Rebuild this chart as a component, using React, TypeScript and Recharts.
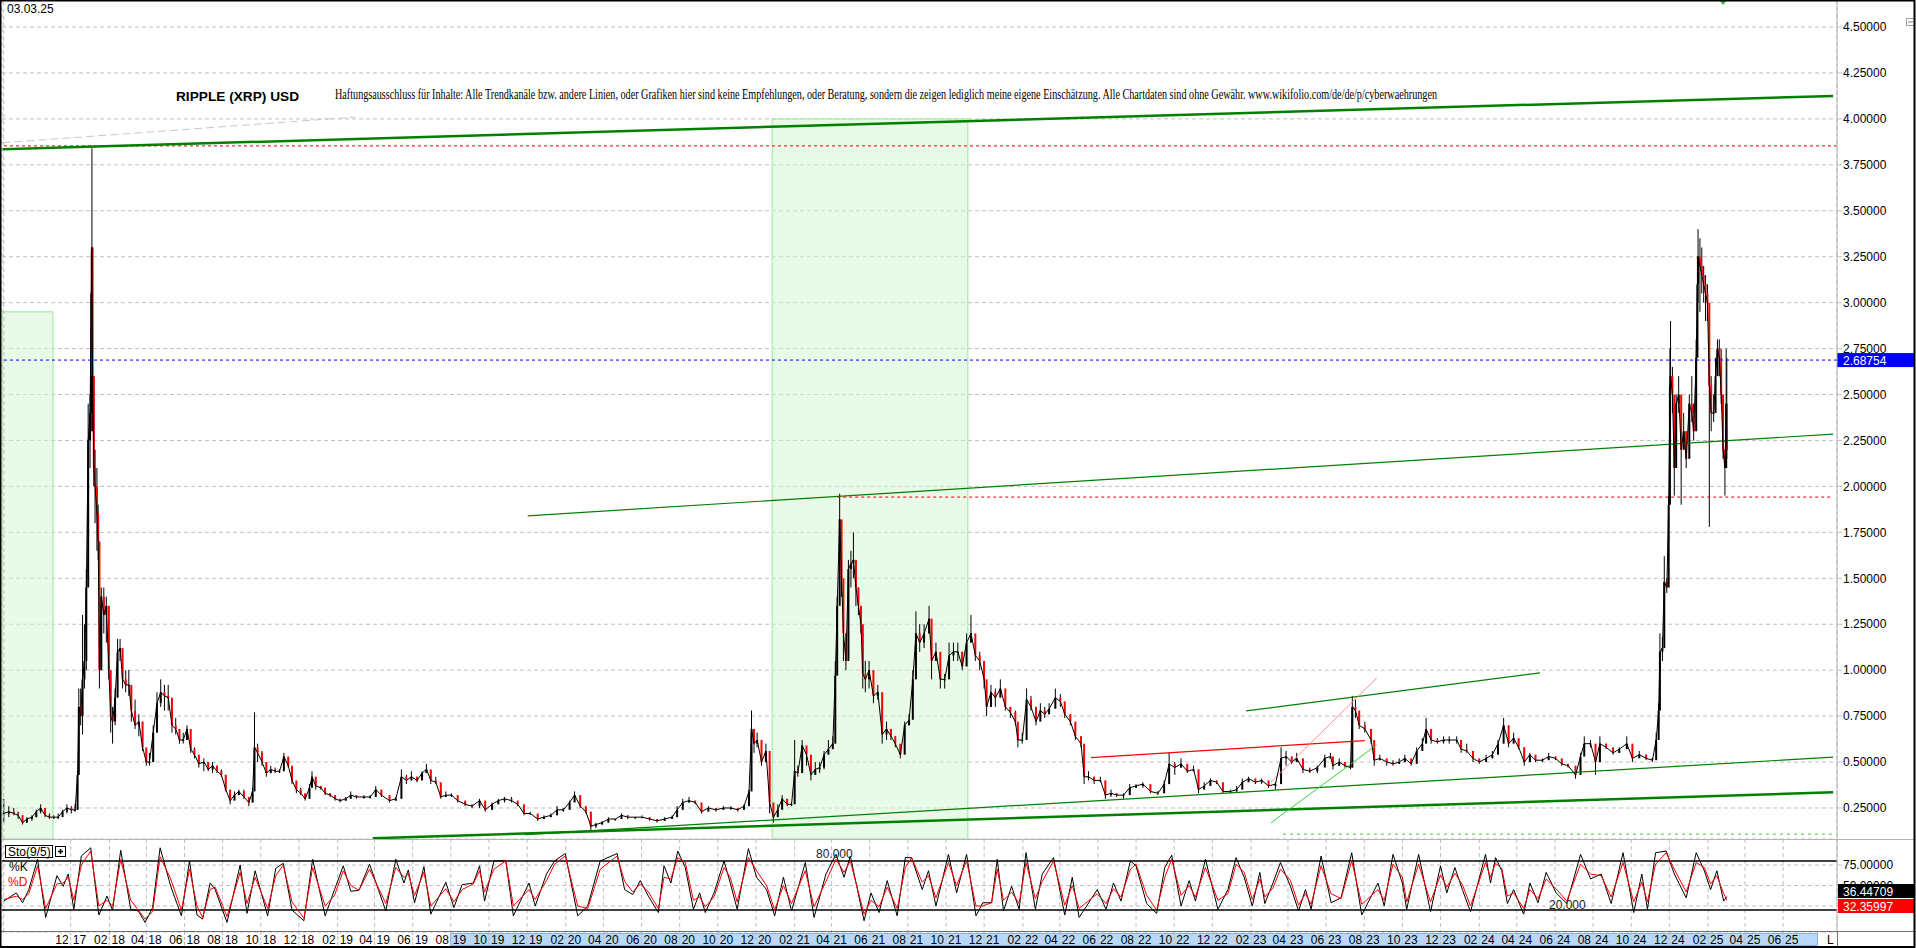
import React from "react";
import {
  ComposedChart,
  Bar,
  Line,
  XAxis,
  YAxis,
  CartesianGrid,
  ReferenceLine,
  ReferenceArea,
  ReferenceDot,
} from "recharts";

// x unit: days since 1 Dec 2017
const DAY0 = Date.parse("2017-12-01");
const toDay = (s: string) => (Date.parse(s) - DAY0) / 86400000;

const X_MIN = -109.9;
const X_MAX = 2825.2;
const P_MIN = 0.0812;
const P_MAX = 4.647;
const S_MIN = -6.71;
const S_MAX = 106.71;

const tickMonths = [
  "2017-12", "2018-02", "2018-04", "2018-06", "2018-08", "2018-10", "2018-12",
  "2019-02", "2019-04", "2019-06", "2019-08", "2019-10", "2019-12",
  "2020-02", "2020-04", "2020-06", "2020-08", "2020-10", "2020-12",
  "2021-02", "2021-04", "2021-06", "2021-08", "2021-10", "2021-12",
  "2022-02", "2022-04", "2022-06", "2022-08", "2022-10", "2022-12",
  "2023-02", "2023-04", "2023-06", "2023-08", "2023-10", "2023-12",
  "2024-02", "2024-04", "2024-06", "2024-08", "2024-10", "2024-12",
  "2025-02", "2025-04", "2025-06",
];
const tickDays = tickMonths.map((m) => toDay(m + "-01"));

const priceTicks = [0.25, 0.5, 0.75, 1, 1.25, 1.5, 1.75, 2, 2.25, 2.5, 2.75, 3, 3.25, 3.5, 3.75, 4, 4.25, 4.5];
const stochTicks = [75, 50, 25];

const lastPrice = 2.68754;
const lastK = "36.44709";
const lastD = "32.35997";

// [date, low, high, close]
const priceRows: [string, number, number, number][] = [
  ["2017-08-16", 0.17, 0.3, 0.22], ["2017-08-24", 0.2, 0.26, 0.23], ["2017-09-01", 0.21, 0.25, 0.22],
  ["2017-09-08", 0.19, 0.23, 0.21], ["2017-09-15", 0.16, 0.21, 0.17], ["2017-09-22", 0.17, 0.2, 0.19],
  ["2017-09-30", 0.18, 0.21, 0.2], ["2017-10-07", 0.2, 0.24, 0.23], ["2017-10-14", 0.22, 0.27, 0.25],
  ["2017-10-21", 0.2, 0.24, 0.21], ["2017-10-28", 0.19, 0.22, 0.2], ["2017-11-04", 0.19, 0.21, 0.2],
  ["2017-11-11", 0.19, 0.22, 0.2], ["2017-11-18", 0.21, 0.24, 0.23], ["2017-11-25", 0.22, 0.27, 0.25],
  ["2017-12-02", 0.22, 0.26, 0.24], ["2017-12-08", 0.23, 0.27, 0.24], ["2017-12-12", 0.24, 0.45, 0.43],
  ["2017-12-14", 0.55, 0.9, 0.8], ["2017-12-17", 0.7, 0.9, 0.75], ["2017-12-20", 0.65, 1.3, 0.95],
  ["2017-12-23", 0.9, 1.25, 1.05], ["2017-12-26", 1.0, 1.55, 1.45], ["2017-12-29", 1.5, 2.45, 2.25],
  ["2018-01-01", 2.1, 2.5, 2.4], ["2018-01-03", 2.3, 3.28, 3.05], ["2018-01-04", 2.9, 3.84, 3.3],
  ["2018-01-05", 2.3, 3.2, 2.6], ["2018-01-07", 2.0, 2.6, 2.1], ["2018-01-09", 1.8, 2.2, 2.0],
  ["2018-01-12", 1.65, 2.1, 1.85], ["2018-01-14", 1.6, 1.9, 1.7], ["2018-01-16", 0.9, 1.7, 1.0],
  ["2018-01-19", 1.15, 1.45, 1.4], ["2018-01-23", 1.2, 1.45, 1.3], ["2018-01-27", 1.15, 1.4, 1.35],
  ["2018-01-31", 0.95, 1.2, 1.0], ["2018-02-03", 0.66, 0.95, 0.75], ["2018-02-06", 0.6, 0.8, 0.72],
  ["2018-02-10", 0.7, 0.9, 0.85], ["2018-02-14", 1.05, 1.17, 1.1], ["2018-02-18", 1.05, 1.17, 1.12],
  ["2018-02-22", 0.9, 1.05, 0.95], ["2018-02-27", 0.88, 1.0, 0.92], ["2018-03-04", 0.86, 1.0, 0.92],
  ["2018-03-08", 0.72, 0.9, 0.78], ["2018-03-14", 0.68, 0.84, 0.7], ["2018-03-20", 0.64, 0.76, 0.72],
  ["2018-03-26", 0.56, 0.66, 0.58], ["2018-04-01", 0.48, 0.56, 0.5], ["2018-04-06", 0.48, 0.55, 0.5],
  ["2018-04-12", 0.5, 0.7, 0.66], ["2018-04-18", 0.75, 0.88, 0.82], ["2018-04-24", 0.8, 0.95, 0.88],
  ["2018-04-30", 0.78, 0.92, 0.86], ["2018-05-06", 0.78, 0.92, 0.85], ["2018-05-12", 0.66, 0.78, 0.7],
  ["2018-05-18", 0.65, 0.74, 0.68], ["2018-05-24", 0.6, 0.68, 0.62], ["2018-05-30", 0.6, 0.66, 0.62],
  ["2018-06-05", 0.66, 0.7, 0.68], ["2018-06-11", 0.55, 0.62, 0.57], ["2018-06-17", 0.52, 0.58, 0.54],
  ["2018-06-24", 0.47, 0.52, 0.49], ["2018-07-02", 0.45, 0.52, 0.5], ["2018-07-09", 0.45, 0.5, 0.46],
  ["2018-07-16", 0.44, 0.5, 0.48], ["2018-07-23", 0.44, 0.48, 0.45], ["2018-07-30", 0.42, 0.46, 0.43],
  ["2018-08-06", 0.34, 0.43, 0.35], ["2018-08-13", 0.27, 0.33, 0.29], ["2018-08-20", 0.3, 0.34, 0.32],
  ["2018-08-27", 0.32, 0.35, 0.34], ["2018-09-04", 0.3, 0.35, 0.31], ["2018-09-12", 0.26, 0.3, 0.28],
  ["2018-09-18", 0.28, 0.36, 0.34], ["2018-09-21", 0.45, 0.77, 0.58], ["2018-09-26", 0.5, 0.6, 0.55],
  ["2018-10-03", 0.48, 0.56, 0.5], ["2018-10-10", 0.42, 0.5, 0.44], ["2018-10-17", 0.44, 0.48, 0.46],
  ["2018-10-24", 0.44, 0.47, 0.45], ["2018-10-31", 0.44, 0.46, 0.45], ["2018-11-07", 0.5, 0.55, 0.53],
  ["2018-11-14", 0.47, 0.52, 0.48], ["2018-11-20", 0.38, 0.45, 0.4], ["2018-11-27", 0.33, 0.38, 0.35],
  ["2018-12-04", 0.32, 0.36, 0.33], ["2018-12-11", 0.29, 0.32, 0.3], ["2018-12-18", 0.3, 0.38, 0.36],
  ["2018-12-22", 0.38, 0.45, 0.42], ["2018-12-28", 0.35, 0.4, 0.37],
  ["2019-01-05", 0.35, 0.37, 0.36], ["2019-01-12", 0.32, 0.36, 0.33], ["2019-01-20", 0.31, 0.33, 0.32],
  ["2019-01-28", 0.29, 0.32, 0.3], ["2019-02-05", 0.28, 0.3, 0.29], ["2019-02-14", 0.29, 0.31, 0.3],
  ["2019-02-22", 0.31, 0.34, 0.32], ["2019-03-03", 0.3, 0.32, 0.31], ["2019-03-15", 0.3, 0.32, 0.31],
  ["2019-03-25", 0.3, 0.32, 0.31], ["2019-04-03", 0.33, 0.37, 0.35], ["2019-04-12", 0.31, 0.34, 0.32],
  ["2019-04-25", 0.28, 0.31, 0.29], ["2019-05-05", 0.29, 0.31, 0.3], ["2019-05-14", 0.38, 0.46, 0.42],
  ["2019-05-22", 0.38, 0.43, 0.4], ["2019-05-30", 0.4, 0.45, 0.42], ["2019-06-08", 0.39, 0.42, 0.4],
  ["2019-06-16", 0.42, 0.45, 0.44], ["2019-06-23", 0.45, 0.49, 0.46], ["2019-06-30", 0.38, 0.44, 0.4],
  ["2019-07-08", 0.38, 0.42, 0.39], ["2019-07-16", 0.3, 0.35, 0.31], ["2019-07-24", 0.31, 0.34, 0.32],
  ["2019-08-02", 0.31, 0.33, 0.32], ["2019-08-12", 0.28, 0.31, 0.29], ["2019-08-24", 0.26, 0.28, 0.27],
  ["2019-09-04", 0.25, 0.26, 0.26], ["2019-09-16", 0.25, 0.3, 0.29], ["2019-09-25", 0.23, 0.27, 0.24],
  ["2019-10-06", 0.25, 0.28, 0.27], ["2019-10-16", 0.28, 0.3, 0.29], ["2019-10-26", 0.28, 0.31, 0.3],
  ["2019-11-06", 0.28, 0.31, 0.29], ["2019-11-16", 0.26, 0.28, 0.27], ["2019-11-26", 0.21, 0.24, 0.22],
  ["2019-12-06", 0.22, 0.23, 0.22], ["2019-12-18", 0.18, 0.2, 0.19], ["2019-12-28", 0.19, 0.21, 0.2],
  ["2020-01-08", 0.2, 0.22, 0.21], ["2020-01-18", 0.22, 0.26, 0.24], ["2020-01-28", 0.23, 0.25, 0.24],
  ["2020-02-07", 0.26, 0.29, 0.28], ["2020-02-15", 0.29, 0.34, 0.32], ["2020-02-24", 0.25, 0.29, 0.26],
  ["2020-03-04", 0.22, 0.25, 0.23], ["2020-03-12", 0.12, 0.21, 0.15], ["2020-03-20", 0.14, 0.17, 0.16],
  ["2020-03-30", 0.16, 0.18, 0.17], ["2020-04-09", 0.18, 0.2, 0.19], ["2020-04-20", 0.18, 0.19, 0.19],
  ["2020-04-30", 0.2, 0.22, 0.21], ["2020-05-10", 0.19, 0.21, 0.2], ["2020-05-22", 0.19, 0.2, 0.2],
  ["2020-06-02", 0.2, 0.21, 0.2], ["2020-06-14", 0.18, 0.2, 0.19], ["2020-06-26", 0.17, 0.18, 0.18],
  ["2020-07-08", 0.18, 0.2, 0.19], ["2020-07-20", 0.19, 0.21, 0.2], ["2020-07-28", 0.22, 0.26, 0.24],
  ["2020-08-06", 0.26, 0.3, 0.28], ["2020-08-16", 0.28, 0.31, 0.29], ["2020-08-26", 0.27, 0.29, 0.28],
  ["2020-09-05", 0.22, 0.26, 0.23], ["2020-09-16", 0.24, 0.26, 0.25], ["2020-09-28", 0.23, 0.25, 0.24],
  ["2020-10-10", 0.24, 0.26, 0.25], ["2020-10-22", 0.24, 0.26, 0.25], ["2020-11-02", 0.23, 0.25, 0.24],
  ["2020-11-12", 0.25, 0.27, 0.26], ["2020-11-20", 0.28, 0.35, 0.34], ["2020-11-24", 0.52, 0.78, 0.68],
  ["2020-11-28", 0.55, 0.68, 0.6], ["2020-12-03", 0.58, 0.66, 0.62], ["2020-12-10", 0.48, 0.56, 0.5],
  ["2020-12-17", 0.52, 0.6, 0.56], ["2020-12-23", 0.22, 0.5, 0.28], ["2020-12-29", 0.17, 0.24, 0.2],
  ["2021-01-05", 0.22, 0.27, 0.24], ["2021-01-12", 0.27, 0.32, 0.3], ["2021-01-20", 0.26, 0.3, 0.27],
  ["2021-01-27", 0.26, 0.28, 0.27], ["2021-02-01", 0.4, 0.62, 0.45], ["2021-02-06", 0.42, 0.48, 0.44],
  ["2021-02-13", 0.55, 0.62, 0.59], ["2021-02-20", 0.48, 0.58, 0.54], ["2021-02-27", 0.4, 0.48, 0.43],
  ["2021-03-06", 0.44, 0.5, 0.46], ["2021-03-13", 0.44, 0.5, 0.47], ["2021-03-20", 0.46, 0.56, 0.54],
  ["2021-03-27", 0.55, 0.62, 0.57], ["2021-04-03", 0.58, 0.64, 0.6], ["2021-04-07", 0.9, 1.05, 0.97],
  ["2021-04-10", 1.2, 1.4, 1.35], ["2021-04-14", 1.6, 1.96, 1.82], ["2021-04-17", 1.4, 1.7, 1.5],
  ["2021-04-20", 1.05, 1.35, 1.2], ["2021-04-24", 1.0, 1.2, 1.05], ["2021-04-28", 1.4, 1.6, 1.55],
  ["2021-05-02", 1.45, 1.65, 1.58], ["2021-05-06", 1.5, 1.75, 1.6], ["2021-05-10", 1.35, 1.6, 1.45],
  ["2021-05-14", 1.3, 1.45, 1.35], ["2021-05-18", 1.2, 1.35, 1.25], ["2021-05-21", 0.9, 1.2, 0.98],
  ["2021-05-25", 0.88, 1.05, 0.95], ["2021-05-31", 0.9, 1.05, 1.0], ["2021-06-07", 0.82, 0.95, 0.86],
  ["2021-06-14", 0.84, 0.92, 0.88], ["2021-06-21", 0.6, 0.8, 0.65], ["2021-06-28", 0.62, 0.72, 0.68],
  ["2021-07-05", 0.62, 0.68, 0.64], ["2021-07-12", 0.58, 0.64, 0.6], ["2021-07-20", 0.52, 0.58, 0.54],
  ["2021-07-27", 0.62, 0.72, 0.7], ["2021-08-03", 0.7, 0.76, 0.73], ["2021-08-09", 0.85, 1.0, 0.95],
  ["2021-08-14", 1.15, 1.32, 1.2], ["2021-08-20", 1.1, 1.25, 1.15], ["2021-08-27", 1.12, 1.25, 1.2],
  ["2021-09-04", 1.2, 1.35, 1.28], ["2021-09-08", 0.95, 1.15, 1.05], ["2021-09-15", 1.05, 1.15, 1.1],
  ["2021-09-22", 0.9, 1.0, 0.95], ["2021-09-29", 0.9, 0.98, 0.95], ["2021-10-06", 1.0, 1.15, 1.08],
  ["2021-10-13", 1.05, 1.15, 1.1], ["2021-10-20", 1.05, 1.15, 1.1], ["2021-10-27", 1.0, 1.1, 1.02],
  ["2021-11-03", 1.1, 1.2, 1.15], ["2021-11-10", 1.15, 1.3, 1.2], ["2021-11-17", 1.05, 1.15, 1.08],
  ["2021-11-24", 1.0, 1.1, 1.05], ["2021-12-01", 0.9, 1.05, 0.95], ["2021-12-05", 0.75, 0.9, 0.8],
  ["2021-12-12", 0.8, 0.92, 0.88], ["2021-12-19", 0.8, 0.9, 0.85], ["2021-12-27", 0.88, 0.95, 0.9],
  ["2022-01-04", 0.78, 0.85, 0.8], ["2022-01-12", 0.74, 0.8, 0.77], ["2022-01-20", 0.7, 0.78, 0.72],
  ["2022-01-24", 0.58, 0.68, 0.62], ["2022-01-31", 0.6, 0.66, 0.62], ["2022-02-07", 0.8, 0.9, 0.84],
  ["2022-02-14", 0.78, 0.86, 0.8], ["2022-02-22", 0.7, 0.8, 0.72], ["2022-03-01", 0.76, 0.82, 0.78],
  ["2022-03-08", 0.74, 0.8, 0.76], ["2022-03-15", 0.76, 0.82, 0.79], ["2022-03-25", 0.82, 0.9, 0.85],
  ["2022-04-02", 0.8, 0.87, 0.83], ["2022-04-09", 0.74, 0.8, 0.76], ["2022-04-18", 0.7, 0.76, 0.72],
  ["2022-04-26", 0.62, 0.7, 0.64], ["2022-05-05", 0.58, 0.64, 0.6], ["2022-05-10", 0.38, 0.52, 0.42],
  ["2022-05-17", 0.4, 0.45, 0.42], ["2022-05-26", 0.38, 0.42, 0.4], ["2022-06-05", 0.39, 0.42, 0.4],
  ["2022-06-13", 0.3, 0.37, 0.32], ["2022-06-22", 0.31, 0.35, 0.33], ["2022-07-01", 0.31, 0.33, 0.32],
  ["2022-07-12", 0.3, 0.33, 0.32], ["2022-07-22", 0.34, 0.38, 0.36], ["2022-08-01", 0.36, 0.38, 0.37],
  ["2022-08-12", 0.36, 0.39, 0.38], ["2022-08-24", 0.33, 0.35, 0.34], ["2022-09-05", 0.32, 0.34, 0.33],
  ["2022-09-15", 0.35, 0.4, 0.38], ["2022-09-23", 0.45, 0.55, 0.49], ["2022-10-02", 0.43, 0.5, 0.47],
  ["2022-10-12", 0.47, 0.52, 0.49], ["2022-10-22", 0.44, 0.47, 0.45], ["2022-11-01", 0.45, 0.48, 0.46],
  ["2022-11-09", 0.33, 0.4, 0.35], ["2022-11-18", 0.36, 0.39, 0.37], ["2022-11-28", 0.38, 0.41, 0.4],
  ["2022-12-08", 0.38, 0.4, 0.39], ["2022-12-18", 0.33, 0.36, 0.34], ["2022-12-30", 0.33, 0.35, 0.34],
  ["2023-01-09", 0.34, 0.37, 0.35], ["2023-01-18", 0.37, 0.41, 0.39], ["2023-01-28", 0.4, 0.42, 0.41],
  ["2023-02-08", 0.38, 0.41, 0.39], ["2023-02-18", 0.38, 0.41, 0.4], ["2023-03-01", 0.36, 0.39, 0.37],
  ["2023-03-12", 0.35, 0.39, 0.38], ["2023-03-21", 0.42, 0.58, 0.52], ["2023-03-29", 0.48, 0.56, 0.53],
  ["2023-04-07", 0.49, 0.53, 0.5], ["2023-04-15", 0.5, 0.55, 0.52], ["2023-04-25", 0.44, 0.48, 0.46],
  ["2023-05-06", 0.44, 0.47, 0.45], ["2023-05-18", 0.44, 0.48, 0.47], ["2023-05-30", 0.5, 0.54, 0.52],
  ["2023-06-08", 0.52, 0.55, 0.53], ["2023-06-12", 0.46, 0.5, 0.48], ["2023-06-22", 0.48, 0.52, 0.5],
  ["2023-07-01", 0.47, 0.5, 0.48], ["2023-07-10", 0.46, 0.48, 0.47], ["2023-07-13", 0.47, 0.86, 0.8],
  ["2023-07-18", 0.74, 0.84, 0.78], ["2023-07-24", 0.68, 0.76, 0.7], ["2023-08-02", 0.66, 0.72, 0.68],
  ["2023-08-12", 0.6, 0.64, 0.62], ["2023-08-17", 0.48, 0.56, 0.51], ["2023-08-26", 0.51, 0.54, 0.52],
  ["2023-09-06", 0.48, 0.51, 0.5], ["2023-09-16", 0.48, 0.51, 0.49], ["2023-09-26", 0.49, 0.52, 0.5],
  ["2023-10-05", 0.5, 0.54, 0.52], ["2023-10-15", 0.48, 0.51, 0.49], ["2023-10-24", 0.53, 0.58, 0.56],
  ["2023-11-02", 0.58, 0.63, 0.6], ["2023-11-08", 0.66, 0.74, 0.68], ["2023-11-16", 0.6, 0.66, 0.62],
  ["2023-11-26", 0.6, 0.63, 0.61], ["2023-12-06", 0.6, 0.64, 0.62], ["2023-12-15", 0.6, 0.64, 0.62],
  ["2023-12-27", 0.6, 0.64, 0.62],
  ["2024-01-03", 0.55, 0.62, 0.57], ["2024-01-12", 0.55, 0.6, 0.56], ["2024-01-22", 0.5, 0.55, 0.52],
  ["2024-02-01", 0.49, 0.51, 0.5], ["2024-02-12", 0.51, 0.54, 0.52], ["2024-02-22", 0.53, 0.56, 0.54],
  ["2024-03-02", 0.57, 0.62, 0.6], ["2024-03-11", 0.66, 0.74, 0.7], ["2024-03-19", 0.58, 0.64, 0.6],
  ["2024-03-27", 0.62, 0.66, 0.63], ["2024-04-04", 0.57, 0.62, 0.58], ["2024-04-13", 0.48, 0.58, 0.5],
  ["2024-04-22", 0.52, 0.55, 0.54], ["2024-05-01", 0.5, 0.53, 0.51], ["2024-05-12", 0.5, 0.52, 0.51],
  ["2024-05-22", 0.52, 0.55, 0.53], ["2024-06-02", 0.51, 0.53, 0.52], ["2024-06-12", 0.48, 0.5, 0.49],
  ["2024-06-22", 0.47, 0.49, 0.48], ["2024-07-04", 0.41, 0.46, 0.43], ["2024-07-12", 0.45, 0.55, 0.53],
  ["2024-07-18", 0.58, 0.64, 0.6], ["2024-07-28", 0.58, 0.62, 0.6], ["2024-08-05", 0.43, 0.52, 0.5],
  ["2024-08-12", 0.55, 0.64, 0.6], ["2024-08-22", 0.57, 0.6, 0.58], ["2024-09-02", 0.54, 0.57, 0.55],
  ["2024-09-12", 0.55, 0.58, 0.57], ["2024-09-24", 0.58, 0.64, 0.6], ["2024-10-03", 0.5, 0.55, 0.52],
  ["2024-10-14", 0.53, 0.56, 0.54], ["2024-10-25", 0.51, 0.54, 0.52], ["2024-11-04", 0.5, 0.52, 0.51],
  ["2024-11-10", 0.56, 0.66, 0.62], ["2024-11-14", 0.7, 0.82, 0.78], ["2024-11-16", 1.0, 1.2, 1.1],
  ["2024-11-20", 1.05, 1.18, 1.12], ["2024-11-23", 1.4, 1.62, 1.48], ["2024-11-27", 1.42, 1.5, 1.45],
  ["2024-11-30", 1.7, 1.95, 1.9], ["2024-12-02", 2.4, 2.75, 2.55], ["2024-12-03", 2.2, 2.9, 2.6],
  ["2024-12-06", 2.4, 2.65, 2.5], ["2024-12-09", 1.95, 2.4, 2.1], ["2024-12-12", 2.3, 2.5, 2.45],
  ["2024-12-16", 2.4, 2.6, 2.5], ["2024-12-20", 1.9, 2.3, 2.2], ["2024-12-24", 2.2, 2.4, 2.3],
  ["2024-12-28", 2.1, 2.3, 2.15],
  ["2025-01-02", 2.3, 2.5, 2.45], ["2025-01-06", 2.35, 2.6, 2.4], ["2025-01-09", 2.25, 2.45, 2.3],
  ["2025-01-13", 2.4, 2.8, 2.7], ["2025-01-15", 2.8, 3.25, 3.1], ["2025-01-16", 3.0, 3.4, 3.25],
  ["2025-01-19", 2.95, 3.35, 3.2], ["2025-01-22", 3.05, 3.3, 3.15], ["2025-01-25", 3.0, 3.2, 3.1],
  ["2025-01-28", 2.9, 3.15, 3.05], ["2025-01-31", 2.9, 3.1, 3.0], ["2025-02-03", 1.78, 2.9, 2.55],
  ["2025-02-06", 2.3, 2.6, 2.4], ["2025-02-10", 2.35, 2.5, 2.4], ["2025-02-13", 2.5, 2.7, 2.6],
  ["2025-02-16", 2.65, 2.8, 2.75], ["2025-02-19", 2.6, 2.8, 2.7], ["2025-02-22", 2.45, 2.75, 2.5],
  ["2025-02-25", 2.15, 2.45, 2.2], ["2025-02-28", 1.95, 2.2, 2.1], ["2025-03-02", 2.15, 2.75, 2.45],
  ["2025-03-03", 2.15, 2.7, 2.2],
];

// stochastic (9/5): [day, %K, %D]
const stochRows: [number, number, number][] = [
  [-107, 31, 33], [-87, 41, 37], [-77, 29, 33], [-67, 45, 40], [-53, 82, 74], [-40, 11, 22],
  [-22, 62, 52], [-12, 49, 53], [-4, 64, 60], [5, 21, 32], [17, 86, 75], [32, 96, 92],
  [45, 14, 25], [58, 37, 32], [67, 20, 25], [80, 93, 82], [96, 21, 32], [108, 19, 20],
  [119, 5, 9], [131, 23, 18], [143, 96, 85], [160, 49, 58], [177, 13, 20], [190, 80, 70],
  [202, 14, 25], [211, 9, 11], [223, 53, 45], [231, 45, 48], [250, 5, 12], [271, 75, 66],
  [282, 16, 28], [295, 68, 60], [315, 13, 22], [328, 71, 62], [340, 77, 75], [354, 20, 30],
  [373, 7, 10], [387, 82, 72], [407, 13, 25], [422, 45, 38], [436, 74, 68], [448, 43, 50],
  [461, 44, 44], [478, 76, 70], [504, 19, 28], [520, 82, 72], [533, 53, 60], [540, 69, 64],
  [550, 29, 38], [565, 73, 66], [576, 15, 25], [600, 54, 46], [613, 23, 30], [626, 51, 45],
  [644, 53, 52], [654, 74, 68], [662, 31, 42], [677, 80, 70], [696, 80, 80], [708, 13, 25],
  [733, 53, 45], [743, 25, 33], [761, 64, 56], [774, 80, 76], [791, 89, 86], [811, 13, 25],
  [827, 25, 22], [847, 80, 70], [874, 89, 86], [886, 45, 55], [899, 39, 42], [911, 56, 52],
  [924, 37, 42], [940, 17, 22], [949, 74, 60], [960, 53, 58], [971, 92, 84], [983, 72, 78],
  [996, 21, 32], [1006, 41, 36], [1015, 17, 24], [1029, 41, 36], [1045, 80, 72], [1055, 53, 60],
  [1066, 21, 30], [1084, 95, 84], [1097, 60, 68], [1113, 45, 50], [1126, 13, 20], [1140, 60, 50],
  [1153, 19, 28], [1175, 78, 68], [1189, 11, 24], [1208, 64, 55], [1224, 88, 82], [1237, 60, 66],
  [1247, 86, 80], [1269, 7, 15], [1280, 41, 32], [1293, 17, 24], [1306, 56, 48], [1322, 13, 22],
  [1335, 84, 72], [1345, 84, 84], [1362, 45, 54], [1372, 68, 62], [1384, 25, 35], [1404, 88, 78],
  [1417, 41, 50], [1433, 88, 80], [1448, 13, 25], [1459, 29, 25], [1473, 29, 29], [1482, 82, 70],
  [1492, 19, 32], [1505, 49, 42], [1517, 21, 28], [1528, 90, 78], [1543, 21, 34], [1554, 64, 55],
  [1572, 84, 80], [1590, 14, 26], [1602, 60, 50], [1613, 11, 22], [1642, 45, 40], [1656, 21, 28],
  [1668, 53, 46], [1680, 31, 36], [1695, 80, 70], [1704, 74, 76], [1721, 28, 38], [1737, 16, 20],
  [1750, 72, 60], [1761, 87, 82], [1776, 25, 38], [1789, 56, 50], [1799, 31, 36], [1815, 82, 72],
  [1835, 21, 32], [1851, 45, 40], [1864, 84, 76], [1877, 60, 66], [1890, 25, 33], [1902, 66, 58],
  [1910, 28, 36], [1923, 53, 47], [1935, 78, 70], [1951, 49, 56], [1964, 19, 26], [1975, 45, 40],
  [1984, 21, 27], [2000, 86, 74], [2016, 29, 40], [2032, 35, 34], [2049, 90, 80], [2065, 14, 27],
  [2091, 53, 45], [2101, 25, 32], [2115, 88, 76], [2130, 53, 60], [2137, 21, 30], [2156, 88, 76],
  [2175, 18, 30], [2191, 74, 63], [2201, 41, 48], [2214, 72, 65], [2226, 45, 51], [2239, 18, 25],
  [2263, 88, 78], [2271, 53, 60], [2279, 84, 77], [2289, 68, 71], [2298, 28, 37], [2308, 45, 41],
  [2324, 15, 22], [2334, 53, 45], [2347, 29, 34], [2360, 66, 58], [2376, 41, 46], [2393, 28, 31],
  [2415, 88, 76], [2431, 58, 64], [2448, 64, 62], [2464, 28, 36], [2483, 90, 78], [2500, 17, 30],
  [2513, 64, 54], [2522, 21, 30], [2535, 90, 76], [2552, 92, 90], [2565, 64, 70], [2584, 35, 42],
  [2600, 90, 78], [2613, 68, 72], [2623, 45, 52], [2633, 68, 62], [2644, 31, 40], [2649, 36.4, 32.4],
];

// drawn lines: [day1, price1, day2, price2]
const trendLineEnds: [number, number, number, number][] = [
  [-109, 3.835, 2819, 4.125],
  [-109, 3.87, 455, 4.01],
  [731, 1.84, 2819, 2.285],
  [1226, 1.942, 2819, 1.942],
  [483, 0.085, 2819, 0.335],
  [727, 0.105, 2819, 0.527],
  [1880, 0.778, 2350, 0.985],
  [1632, 0.524, 2070, 0.617],
  [1920, 0.391, 2089, 0.957],
  [1920, 0.17, 2089, 0.593],
  [1939, 0.108, 2819, 0.108],
];
const trendStyles = [
  { stroke: "#008000", width: 2.5, dash: undefined },
  { stroke: "#c8c8c8", width: 1, dash: "8 4" },
  { stroke: "#008000", width: 1.2, dash: undefined },
  { stroke: "#e00000", width: 1, dash: "3 3" },
  { stroke: "#008000", width: 2.5, dash: undefined },
  { stroke: "#008000", width: 1.2, dash: undefined },
  { stroke: "#008000", width: 1.2, dash: undefined },
  { stroke: "#ff0000", width: 1.2, dash: undefined },
  { stroke: "#ff8c8c", width: 1, dash: undefined },
  { stroke: "#3ad03a", width: 1, dash: undefined },
  { stroke: "#33cc33", width: 1, dash: "3 4" },
];

// shaded zones: [day1, day2, priceTop]
const zones: [number, number, number][] = [
  [X_MIN, -28.3, 2.95],
  [1122, 1435, 4.0],
];

const athLevel = 3.853;
const arrowDay = 2643;

const priceData = priceRows.map((r, i) => ({
  day: toDay(r[0]),
  low: r[1],
  high: r[2],
  close: r[3],
  open: i > 0 ? priceRows[i - 1][3] : r[3],
  range: [r[1], r[2]],
}));

const stochData = stochRows.map((r) => ({ day: r[0], k: r[1], d: r[2] }));

const FONT = "'Liberation Sans', Arial, sans-serif";

const Candle = (props: any) => {
  const { x, y, width, height, payload } = props;
  if (x == null || !payload || !isFinite(y)) return null;
  const cx = x + width / 2;
  const top = Math.min(y, y + height);
  const h = Math.abs(height);
  const lo = payload.low;
  const hi = payload.high;
  const span = hi - lo || 1;
  const py = (v: number) => top + ((hi - v) / span) * h;
  const b1 = py(Math.max(payload.open, payload.close));
  const b2 = py(Math.min(payload.open, payload.close));
  const down = payload.close < payload.open;
  return (
    <g>
      <line x1={cx} x2={cx} y1={top} y2={top + h} stroke="#000" strokeWidth={1} />
      <rect x={cx - 1} y={b1} width={2} height={Math.max(1, b2 - b1)} fill={down ? "#ff0000" : "#000"} />
    </g>
  );
};

const PriceTag = (props: any) => {
  const vb = props.viewBox || {};
  const x = (vb.x || 0) + (vb.width || 0);
  const y = vb.y || 0;
  return (
    <g>
      <rect x={x} y={y - 7} width={77} height={14} fill="#0000ff" />
      <text x={x + 6} y={y + 4.5} fill="#fff" fontSize={12} fontFamily={FONT}>
        {lastPrice.toFixed(5)}
      </text>
    </g>
  );
};

const MonthTick = (props: any) => {
  const { x, y, payload } = props;
  const idx = tickDays.indexOf(payload.value);
  const m = idx >= 0 ? tickMonths[idx] : "";
  return (
    <g>
      <line x1={x} x2={x} y1={y} y2={y + 15} stroke="#b8b8b8" strokeDasharray="3 2" />
      <text x={x - 2} y={y + 12} textAnchor="end" fontSize={12} fill="#000" fontFamily={FONT}>
        {m.slice(5, 7)}
      </text>
      <text x={x + 2} y={y + 12} textAnchor="start" fontSize={12} fill="#000" fontFamily={FONT}>
        {m.slice(2, 4)}
      </text>
    </g>
  );
};

const Arrow = (props: any) => {
  const { cx, cy } = props;
  return <polygon points={`${cx - 4},${cy} ${cx + 4},${cy} ${cx},${cy + 5}`} fill="#33bb33" />;
};

const disclaimer =
  "Haftungsausschluss für Inhalte: Alle Trendkanäle bzw. andere Linien, oder Grafiken hier sind keine Empfehlungen, oder Beratung, sondern die zeigen lediglich meine eigene Einschätzung. Alle Chartdaten sind ohne Gewähr.  www.wikifolio.com/de/de/p/cyberwaehrungen";

export default function App() {
  return (
    <div
      style={{
        position: "absolute",
        left: 0,
        top: 0,
        width: 1916,
        height: 948,
        background: "#fff",
        overflow: "hidden",
        fontFamily: FONT,
      }}
    >
      <div
        style={{
          position: "absolute",
          left: 450,
          top: 933,
          width: 1368,
          height: 13,
          background: "#b9d8f7",
          border: "1px solid #86b4e4",
          boxSizing: "border-box",
        }}
      />
      <div style={{ position: "absolute", left: 0, top: 0 }}>
        <ComposedChart width={1916} height={839} data={priceData} margin={{ top: 0, right: 2, bottom: 0, left: 2 }}>
          <CartesianGrid stroke="#c0c0c0" strokeDasharray="4 3" />
          <XAxis
            type="number"
            dataKey="day"
            domain={[X_MIN, X_MAX]}
            ticks={tickDays}
            allowDataOverflow
            height={0}
            tick={false}
            axisLine={false}
            tickLine={false}
          />
          <YAxis
            orientation="right"
            width={77}
            domain={[P_MIN, P_MAX]}
            ticks={priceTicks}
            allowDataOverflow
            interval={0}
            tickFormatter={(v: number) => v.toFixed(5)}
            tick={{ fill: "#000", fontSize: 12, fontFamily: FONT }}
            axisLine={{ stroke: "#b4b4b4" }}
            tickLine={{ stroke: "#c0c0c0" }}
            tickSize={5}
            tickMargin={1}
          />
          {zones.map((z, i) => (
            <ReferenceArea
              key={"z" + i}
              x1={z[0]}
              x2={z[1]}
              y1={P_MIN}
              y2={z[2]}
              fill="#d4f5d4"
              fillOpacity={0.5}
              stroke="#98e898"
              strokeWidth={1}
              ifOverflow="hidden"
            />
          ))}
          <ReferenceLine x={-107} stroke="#c0c0c0" strokeDasharray="4 3" />
          <ReferenceLine y={athLevel} stroke="#e00000" strokeDasharray="3 3" />
          <ReferenceLine y={lastPrice} stroke="#0000ff" strokeDasharray="3 3" label={<PriceTag />} />
          {trendLineEnds.map((t, i) => (
            <ReferenceLine
              key={"t" + i}
              segment={[
                { x: t[0], y: t[1] },
                { x: t[2], y: t[3] },
              ]}
              stroke={trendStyles[i].stroke}
              strokeWidth={trendStyles[i].width}
              strokeDasharray={trendStyles[i].dash}
              ifOverflow="visible"
            />
          ))}
          <Line
            dataKey="close"
            stroke="#000"
            strokeWidth={1}
            dot={false}
            activeDot={false}
            isAnimationActive={false}
            type="linear"
          />
          <Bar dataKey="range" barSize={2} shape={<Candle />} isAnimationActive={false} />
          <ReferenceDot x={arrowDay} y={P_MAX} r={4} shape={<Arrow />} ifOverflow="visible" />
        </ComposedChart>
      </div>
      <div style={{ position: "absolute", left: 0, top: 839 }}>
        <ComposedChart width={1916} height={109} data={stochData} margin={{ top: 0, right: 2, bottom: 0, left: 2 }}>
          <CartesianGrid stroke="#c0c0c0" strokeDasharray="4 3" />
          <XAxis
            type="number"
            dataKey="day"
            domain={[X_MIN, X_MAX]}
            ticks={tickDays}
            allowDataOverflow
            height={16}
            tick={<MonthTick />}
            axisLine={false}
            tickLine={false}
            tickSize={0}
            tickMargin={0}
            interval={0}
          />
          <YAxis
            orientation="right"
            width={77}
            domain={[S_MIN, S_MAX]}
            ticks={stochTicks}
            allowDataOverflow
            interval={0}
            tickFormatter={(v: number) => v.toFixed(5)}
            tick={{ fill: "#000", fontSize: 12, fontFamily: FONT }}
            axisLine={{ stroke: "#b4b4b4" }}
            tickLine={{ stroke: "#c0c0c0" }}
            tickSize={5}
            tickMargin={1}
          />
          <ReferenceLine x={-107} stroke="#c0c0c0" strokeDasharray="4 3" />
          <ReferenceLine y={80} stroke="#000" strokeWidth={1.5} />
          <ReferenceLine y={20} stroke="#000" strokeWidth={1.5} />
          <Line dataKey="k" stroke="#000" strokeWidth={1} dot={false} activeDot={false} isAnimationActive={false} type="linear" />
          <Line dataKey="d" stroke="#ff0000" strokeWidth={1} dot={false} activeDot={false} isAnimationActive={false} type="linear" />
        </ComposedChart>
      </div>
      <svg
        width={1916}
        height={948}
        style={{ position: "absolute", left: 0, top: 0, pointerEvents: "none" }}
      >
        <text x={7} y={13} fontSize={12} fill="#000" fontFamily={FONT}>
          03.03.25
        </text>
        <text x={176} y={101} fontSize={13.5} fontWeight="bold" fill="#000" fontFamily={FONT} textLength={123} lengthAdjust="spacingAndGlyphs">
          RIPPLE (XRP) USD
        </text>
        <text
          x={335}
          y={99}
          fontSize={14.5}
          fill="#000"
          fontFamily="'Liberation Serif', 'Times New Roman', serif"
          textLength={1102}
          lengthAdjust="spacingAndGlyphs"
        >
          {disclaimer}
        </text>
        <rect x={1906.5} y={18.5} width={8} height={7} fill="none" stroke="#a0a0a0" />
        <line x1={1908} x2={1913} y1={22} y2={22} stroke="#808080" />

        <line x1={0} x2={1916} y1={839.5} y2={839.5} stroke="#b4b4b4" />
        <line x1={0} x2={1916} y1={931.5} y2={931.5} stroke="#707070" />
        <line x1={1837.5} x2={1837.5} y1={932} y2={948} stroke="#707070" />

        <rect x={5.5} y={845.5} width={47} height={12} fill="#fff" stroke="#000" />
        <text x={8} y={856} fontSize={12} fill="#000" fontFamily={FONT}>
          Sto(9/5)
        </text>
        <rect x={55.5} y={846.5} width={10} height={10} fill="#fff" stroke="#000" />
        <line x1={58} x2={63} y1={851.5} y2={851.5} stroke="#000" strokeWidth={1.5} />
        <line x1={60.5} x2={60.5} y1={849} y2={854} stroke="#000" strokeWidth={1.5} />
        <text x={9} y={871} fontSize={12} fill="#000" fontFamily={FONT}>
          %K
        </text>
        <text x={8} y={886} fontSize={12} fill="#ff0000" fontFamily={FONT}>
          %D
        </text>
        <text x={816} y={858} fontSize={12} fill="#222" fontFamily={FONT}>
          80.000
        </text>
        <text x={1549} y={909} fontSize={12} fill="#222" fontFamily={FONT}>
          20.000
        </text>
        <rect x={1838} y={884} width={76} height={14} fill="#000" />
        <text x={1843} y={895.5} fontSize={12} fill="#fff" fontFamily={FONT}>
          {lastK}
        </text>
        <rect x={1838} y={899} width={76} height={14} fill="#ff0000" />
        <text x={1843} y={910.5} fontSize={12} fill="#fff" fontFamily={FONT}>
          {lastD}
        </text>
        <text x={1827} y={944} fontSize={12} fill="#000" fontFamily={FONT}>
          L
        </text>
        <rect x={0.5} y={0.5} width={1914} height={946.5} fill="none" stroke="#000" strokeWidth={2} />
      </svg>
    </div>
  );
}
